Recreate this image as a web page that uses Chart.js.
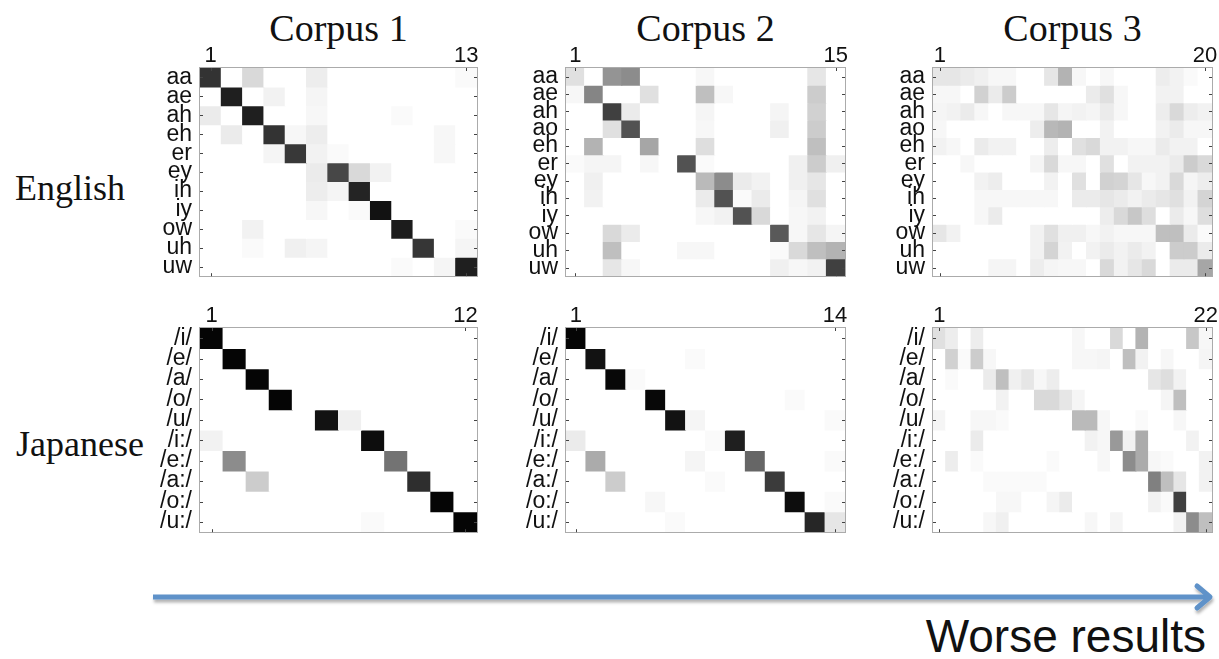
<!DOCTYPE html>
<html><head><meta charset="utf-8">
<script src="https://cdn.jsdelivr.net/npm/chart.js@4.4.1/dist/chart.umd.min.js"></script>
<style>
html,body{margin:0;padding:0;background:#fff}
body{width:1219px;height:659px;overflow:hidden;position:relative}
.panel{position:absolute}
svg{position:absolute;left:0;top:0}
</style></head><body>
<svg width="1219" height="659" id="deco">
  <defs>
    <filter id="sh" x="-5%" y="-100%" width="110%" height="400%">
      <feDropShadow dx="1" dy="3" stdDeviation="1.6" flood-color="#000" flood-opacity="0.3"/>
    </filter>
  </defs>
  <g id="texts"></g>
  <g filter="url(#sh)" stroke="#5e92c9" stroke-width="5" fill="none" stroke-linecap="round" stroke-linejoin="round">
    <line x1="153" y1="597" x2="1208" y2="597" stroke-linecap="butt"/>
    <polyline points="1197,586 1210,597 1197,608"/>
  </g>
</svg>
<script>
// ---------- data ----------
const corpusTitles = ['Corpus 1', 'Corpus 2', 'Corpus 3'];
const languageLabels = ['English', 'Japanese'];
const arrowLabel = 'Worse results';

const englishRows1 = ['aa','ae','ah','eh','er','ey','ih','iy','ow','uh','uw'];
const englishRows23 = ['aa','ae','ah','ao','eh','er','ey','ih','iy','ow','uh','uw'];
const japaneseRows = ['/i/','/e/','/a/','/o/','/u/','/i:/','/e:/','/a:/','/o:/','/u:/'];

// English, Corpus 1 (13 clusters)
const english1 = [
  [.80,0,.15,0,0,.07,0,0,0,0,0,0,.02],
  [0,.88,0,.05,0,.04,0,0,0,0,0,0,0],
  [.08,0,.88,0,0,.03,0,0,0,.02,0,0,0],
  [0,.08,0,.80,.03,.07,0,0,0,0,0,.03,0],
  [0,0,0,.04,.78,.05,.02,0,0,0,0,.03,0],
  [0,0,0,0,0,.08,.72,.15,.05,0,0,0,0],
  [0,0,0,0,0,.07,.04,.86,0,0,0,0,0],
  [0,0,0,0,0,.03,0,.02,.93,0,0,0,0],
  [0,0,.05,0,0,0,0,0,0,.89,0,0,.02],
  [0,0,.02,0,.06,.04,0,0,0,0,.79,0,.04],
  [0,0,0,0,0,0,0,0,0,.02,0,.04,.88]
];
// English, Corpus 2 (15 clusters)
const english2 = [
  [.12,0,.42,.45,0,0,0,.03,0,0,0,0,0,.10,0],
  [.03,.48,0,0,.12,0,0,.25,.03,0,0,0,0,.20,0],
  [0,0,.75,.08,0,0,0,.04,0,0,0,.04,0,.18,0],
  [0,0,.12,.68,0,0,0,.03,0,0,0,.06,0,.20,0],
  [0,.30,0,0,.35,0,0,.13,0,0,0,0,0,.25,0],
  [.02,.04,.04,0,.03,0,.68,.02,0,0,0,0,.06,.20,.06],
  [0,.06,0,0,0,0,0,.27,.45,.08,.05,0,.06,.10,0],
  [0,.05,0,0,0,0,0,.08,.68,.02,.08,0,.04,.12,0],
  [0,0,0,0,0,0,0,.03,.05,.68,.15,0,.03,.05,0],
  [0,0,.15,.08,0,0,0,0,0,0,0,.65,.03,.10,.04],
  [0,0,.25,0,0,0,.03,.03,0,0,0,.02,.15,.25,.30],
  [0,0,.10,.03,0,0,0,0,0,0,0,.06,.03,.05,.75]
];
// English, Corpus 3 (20 clusters)
const english3 = [
  [.10,.10,.08,.06,.03,.03,0,0,.10,.30,.03,0,.03,0,0,0,.07,.05,.02,0],
  [.03,.03,0,.18,.08,.20,0,0,0,0,0,.08,.12,.03,0,0,.05,.05,0,0],
  [.04,.05,.08,.03,0,.03,.03,.03,.10,.04,.05,.04,.08,.03,0,0,.07,.15,.07,.05],
  [.03,0,0,0,0,0,0,.07,.28,.30,0,0,.05,0,0,0,.05,.08,.03,.03],
  [.05,.03,0,.08,.05,.05,0,0,.07,0,.12,.15,.05,.05,.03,.03,.08,.05,.05,0],
  [0,0,.03,0,0,0,0,.04,.15,.03,.03,0,.12,0,.05,.05,.05,.08,.20,.15],
  [0,0,0,.05,.07,0,0,0,.05,0,.12,0,.18,.17,.10,.03,.05,.15,.04,.07],
  [0,0,0,.03,.03,.03,.03,.03,.03,0,.08,.08,.10,.08,.05,.08,.10,.12,.05,.17],
  [0,0,0,.03,.08,0,0,0,0,0,0,0,.07,.15,.22,.13,0,.08,.03,.13],
  [.10,.05,0,0,0,0,0,.05,.12,.06,.06,.03,.05,.03,.03,.03,.25,.25,.08,.02],
  [0,0,0,0,0,0,0,.05,.17,.05,0,.05,.08,.05,.08,.05,0,.20,.20,.08],
  [0,0,0,0,.04,.04,0,.07,.04,.03,.03,0,.15,.05,.10,.15,0,.08,.08,.35]
];
// Japanese, Corpus 1 (12 clusters)
const japanese1 = [
  [.98,0,0,0,0,0,0,0,0,0,0,0],
  [0,.98,0,0,0,0,0,0,0,0,0,0],
  [0,0,.98,0,0,0,0,0,0,0,0,0],
  [0,0,0,.98,0,0,0,0,0,0,0,0],
  [0,0,0,0,0,.93,.06,0,0,0,0,0],
  [.05,0,0,0,0,0,0,.95,0,0,0,0],
  [0,.45,0,0,0,0,0,0,.55,0,0,0],
  [0,0,.20,0,0,0,0,0,0,.82,0,0],
  [0,0,0,0,0,0,0,0,0,0,.98,0],
  [0,0,0,0,0,0,0,.02,0,0,0,.98]
];
// Japanese, Corpus 2 (14 clusters)
const japanese2 = [
  [.98,0,0,0,0,0,0,0,0,0,0,0,0,0],
  [0,.93,0,0,0,0,.02,0,0,0,0,0,0,0],
  [0,0,.97,.02,0,0,0,0,0,0,0,0,0,0],
  [0,0,0,0,.97,0,0,0,0,0,0,.02,0,0],
  [0,0,0,0,0,.93,.04,0,0,0,0,0,0,.02],
  [.08,0,0,0,0,0,0,.02,.88,0,0,0,0,0],
  [0,.33,0,0,0,0,.04,0,0,.60,0,0,0,.02],
  [0,0,.20,0,0,0,0,.02,0,0,.77,0,0,0],
  [0,0,0,0,.03,0,0,0,0,0,0,.95,0,.02],
  [0,0,0,0,0,.02,0,0,0,0,0,0,.85,.10]
];
// Japanese, Corpus 3 (22 clusters)
const japanese3 = [
  [.12,.07,0,.07,0,0,0,0,0,0,0,.03,0,0,.15,0,.30,0,0,0,.22,.03],
  [0,.18,.02,.20,.03,0,0,0,0,0,0,.03,.03,.04,0,.25,.05,0,.03,0,0,.04],
  [0,.02,0,0,.08,.25,.06,.10,.03,.07,0,0,0,0,0,0,0,.10,.13,.05,0,0],
  [0,0,0,0,0,.05,0,0,.15,.15,.10,.04,0,0,0,0,0,0,.04,.25,0,0],
  [.04,0,0,.03,.03,.02,0,0,0,0,0,.27,.27,.03,0,0,.02,0,0,.03,0,0],
  [0,0,0,.08,0,0,0,0,0,0,0,0,.05,.03,.40,.05,.33,0,0,0,.05,0],
  [0,.07,0,.02,0,0,0,0,0,.02,0,0,0,.03,0,.45,.33,.03,.02,0,0,.05],
  [0,0,0,0,.02,.02,.02,.02,.02,0,0,0,0,0,0,0,0,.50,.25,.10,0,.05],
  [0,0,0,0,0,.03,.03,0,0,.04,.08,0,0,0,0,0,0,.05,.02,.75,0,0],
  [0,0,0,0,.03,.06,0,0,0,0,0,0,.03,0,.04,0,0,0,0,.05,.45,.25]
];

// ---------- layout ----------
const SANS = '"Liberation Sans", Arial, Helvetica, sans-serif';
const SERIF = '"Liberation Serif", "Times New Roman", serif';
const GUT_L = 70, GUT_T = 32, PAD = 6;

const panels = [
  {rows: englishRows1, values: english1, left: 200, top: 68, w: 277, h: 224},
  {rows: englishRows23, values: english2, left: 566, top: 68, w: 279, h: 224},
  {rows: englishRows23, values: english3, left: 933, top: 68, w: 279, h: 224},
  {rows: japaneseRows, values: japanese1, left: 200, top: 328, w: 277, h: 220},
  {rows: japaneseRows, values: japanese2, left: 566, top: 328, w: 279, h: 220},
  {rows: japaneseRows, values: japanese3, left: 933, top: 328, w: 279, h: 220}
];

function gray(v) {
  const g = Math.round(255 * (1 - v));
  return `rgb(${g},${g},${g})`;
}

const framePlugin = {
  id: 'frame',
  afterDraw(chart) {
    const {ctx, chartArea: a} = chart;
    ctx.save();
    ctx.strokeStyle = '#ababab';
    ctx.lineWidth = 1;
    ctx.strokeRect(Math.round(a.left) - 0.5, Math.round(a.top) - 0.5,
                   Math.round(a.right - a.left) + 1, Math.round(a.bottom - a.top) + 1);
    ctx.strokeStyle = '#444';
    const ln = (x1, y1, x2, y2) => { ctx.beginPath(); ctx.moveTo(x1, y1); ctx.lineTo(x2, y2); ctx.stroke(); };
    const yl = chart.scales.yl;
    yl.ticks.forEach((t, i) => {
      const y = Math.round(yl.getPixelForTick(i)) + 0.5;
      ln(a.left, y, a.left + 3, y);
      ln(a.right - 3, y, a.right, y);
    });
    const xs = chart.scales.x;
    [0, xs.ticks.length - 1].forEach(i => {
      const x = Math.round(xs.getPixelForTick(i)) + 0.5;
      ln(x, a.top, x, a.top + 3);
      ln(x, a.bottom - 3, x, a.bottom);
    });
    ctx.restore();
  }
};

panels.forEach(p => {
  const div = document.createElement('div');
  div.className = 'panel';
  const W = p.w + GUT_L + PAD, H = p.h + GUT_T + PAD;
  div.style.left = (p.left - GUT_L) + 'px';
  div.style.top = (p.top - GUT_T) + 'px';
  div.style.width = W + 'px';
  div.style.height = H + 'px';
  const cv = document.createElement('canvas');
  cv.width = W; cv.height = H;
  div.appendChild(cv);
  document.body.appendChild(div);

  const colLabels = p.values[0].map((_, i) => String(i + 1));
  new Chart(cv, {
    type: 'bar',
    data: {
      labels: colLabels,
      datasets: p.rows.map((r, i) => ({
        label: r,
        data: p.values[i].map(() => 1),
        backgroundColor: p.values[i].map(gray),
        borderWidth: 0,
        barPercentage: 1,
        categoryPercentage: 1,
        inflateAmount: 0.5
      }))
    },
    options: {
      responsive: false,
      animation: false,
      events: [],
      layout: {padding: {left: 0, top: 0, right: PAD, bottom: PAD}},
      plugins: {legend: {display: false}, tooltip: {enabled: false}},
      scales: {
        x: {
          type: 'category', position: 'top', stacked: true, offset: true,
          grid: {display: false, drawTicks: false}, border: {display: false},
          ticks: {
            autoSkip: false, maxRotation: 0, minRotation: 0, padding: -1, color: '#111',
            font: {family: SANS, size: 22},
            callback: (v, i, t) => (i === 0 || i === t.length - 1) ? colLabels[i] : ''
          },
          afterFit: s => { s.height = GUT_T; }
        },
        y: {type: 'linear', stacked: true, reverse: true, min: 0, max: p.rows.length, display: false},
        yl: {
          type: 'category', labels: p.rows, position: 'left', offset: true,
          grid: {display: false, drawTicks: false}, border: {display: false},
          ticks: {autoSkip: false, padding: 8, color: '#111', font: {family: SANS, size: 23}},
          afterFit: s => { s.width = GUT_L; }
        }
      }
    },
    plugins: [framePlugin]
  });
});

// ---------- text ----------
const NS = 'http://www.w3.org/2000/svg';
const tg = document.getElementById('texts');
function addText(str, x, y, size, family, anchor) {
  const t = document.createElementNS(NS, 'text');
  t.setAttribute('x', x); t.setAttribute('y', y);
  t.setAttribute('font-size', size);
  t.setAttribute('font-family', family);
  t.setAttribute('text-anchor', anchor);
  t.setAttribute('fill', '#111');
  t.textContent = str;
  tg.appendChild(t);
}
corpusTitles.forEach((c, i) => {
  const p = panels[i];
  addText(c, p.left + p.w / 2, 41, 38, SERIF, 'middle');
});
addText(languageLabels[0], 15, 200, 36, SERIF, 'start');
addText(languageLabels[1], 16, 456, 36, SERIF, 'start');
addText(arrowLabel, 1206, 652, 46, SANS, 'end');
</script>
</body></html>
